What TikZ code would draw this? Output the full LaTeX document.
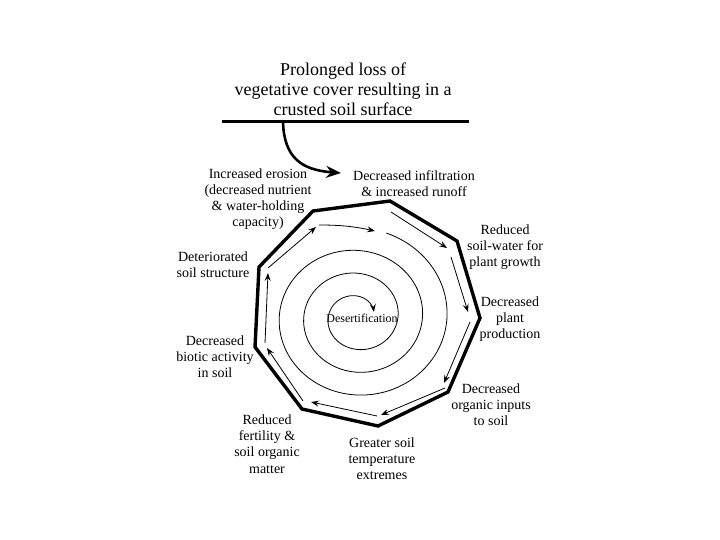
\documentclass[tikz,border=0pt]{standalone}
\usepackage{fontspec}
\setmainfont{Liberation Serif}
\usetikzlibrary{arrows.meta}
\begin{document}
\begin{tikzpicture}[x=1pt,y=-1pt,
  lbl/.style={align=center, font=\fontsize{14}{16.2}\selectfont, inner sep=0pt},
  ttl/.style={align=center, font=\fontsize{18}{20}\selectfont, inner sep=0pt},
  ringline/.style={line width=3.4pt, line join=miter},
  flow/.style={line width=0.8pt, -{Stealth[length=8pt,width=6pt,inset=3pt]}},
  spir/.style={line width=0.8pt}
]
\useasboundingbox[fill=white] (0,0) rectangle (720,540);

% title and bar
\node[ttl] (title) at (343,89) {Prolonged loss of\\vegetative cover resulting in a\\crusted soil surface};
\coordinate (hl) at (222,122);
\coordinate (hr) at (469,122);
\draw[line width=3pt] (hl) -- (hr);
\coordinate (cs) at (283,122);
\coordinate (ce) at (341,173);
\draw[line width=2.6pt, -{Stealth[length=15pt,width=12pt,inset=5pt]}] (cs) .. controls (284,158) and (302,170) .. (ce);

% octagon-like ring
\coordinate (v1) at (313,211);
\coordinate (v2) at (390,201);
\coordinate (v3) at (457,241);
\coordinate (v4) at (480,318);
\coordinate (v5) at (448,392);
\coordinate (v6) at (378,426);
\coordinate (v7) at (302,409);
\coordinate (v8) at (255,347);
\coordinate (v9) at (259,267);
\draw[ringline] (v1)--(v2)--(v3)--(v4)--(v5)--(v6)--(v7)--(v8)--(v9)--cycle;

% inner flow arrows
\coordinate (a1s) at (391,212); \coordinate (a1e) at (447,248);
\coordinate (a2s) at (451,257); \coordinate (a2e) at (468,312);
\coordinate (a3s) at (470,322); \coordinate (a3e) at (444,383);
\coordinate (a4s) at (445,388); \coordinate (a4e) at (381,415);
\coordinate (a5s) at (377,416); \coordinate (a5e) at (311,402);
\coordinate (a6s) at (303,401); \coordinate (a6e) at (267,348);
\coordinate (a7s) at (265,343); \coordinate (a7e) at (268,273);
\coordinate (a8s) at (268,268); \coordinate (a8e) at (316,227);
\draw[flow] (a1s) -- (a1e);
\draw[flow] (a2s) -- (a2e);
\draw[flow] (a3s) -- (a3e);
\draw[flow] (a4s) -- (a4e);
\draw[flow] (a5s) -- (a5e);
\draw[flow] (a6s) -- (a6e);
\draw[flow] (a7s) -- (a7e);
\draw[flow] (a8s) -- (a8e);

% spiral
\coordinate (ss) at (319,225);
\coordinate (se) at (375,231);
\draw[flow] (ss) to[bend left=6] (se);
\draw[spir, -{Stealth[length=8pt,width=6pt,inset=3pt]}] plot[domain=-72:1062, samples=300, smooth]
  ({357+(90-0.068056*\x)*cos(\x)}, {317+0.93*(90-0.068056*\x)*sin(\x)});

% labels
\node[lbl] (erosion) at (258,199) {Increased erosion\\(decreased nutrient\\\& water-holding\\capacity)};
\node[lbl] (infil) at (414,184) {Decreased infiltration\\\& increased runoff};
\node[lbl] (water) at (505,247) {Reduced\\soil-water for\\plant growth};
\node[lbl] (prod) at (510,319) {Decreased\\plant\\production};
\node[lbl] (inputs) at (491,405) {Decreased\\organic inputs\\to soil};
\node[lbl] (temp) at (382,459) {Greater soil\\temperature\\extremes};
\node[lbl] (fert) at (267,444) {Reduced\\fertility \&\\soil organic\\matter};
\node[lbl] (biotic) at (215,357) {Decreased\\biotic activity\\in soil};
\node[lbl] (struct) at (213,265) {Deteriorated\\soil structure};
\node[inner sep=0pt, font=\fontsize{12}{14}\selectfont] (desert) at (362,318) {Desertification};
\end{tikzpicture}
\end{document}
